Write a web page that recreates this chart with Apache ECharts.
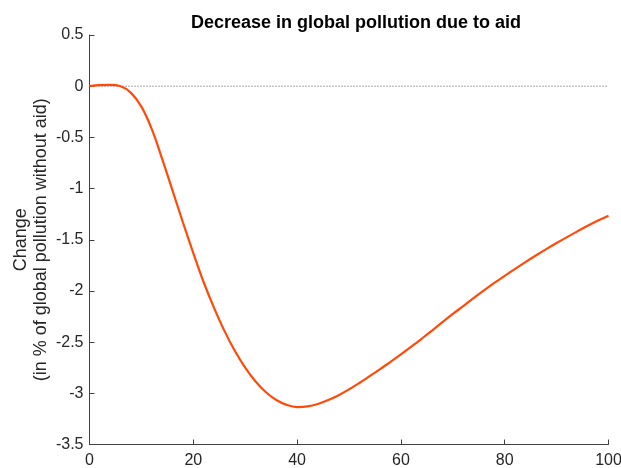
<!DOCTYPE html>
<html>
<head>
<meta charset="utf-8">
<script src="https://cdn.jsdelivr.net/npm/echarts@6/dist/echarts.min.js"></script>
<style>
  html, body { margin: 0; padding: 0; background: #fff; }
  #chart { width: 621px; height: 468px; }
</style>
</head>
<body>
<div id="chart"></div>
<script>
// Aid level (x) and resulting change in global pollution (%)
const aidLevels = [0, 2, 4, 6, 8, 10, 12, 14, 16, 18, 20, 22, 24, 26, 28, 30, 32, 34, 36, 38, 40,
  42, 44, 46, 48, 50, 52, 54, 56, 58, 60, 62, 64, 66, 68, 70, 72, 74, 76, 78, 80,
  82, 84, 86, 88, 90, 92, 94, 96, 98, 100];
const pollutionChange = [0, 0.01, 0.012, 0.0, -0.065, -0.20, -0.42, -0.71, -1.02, -1.33, -1.63,
  -1.915, -2.165, -2.39, -2.585, -2.75, -2.885, -2.99, -3.065, -3.113, -3.134,
  -3.128, -3.104, -3.066, -3.018, -2.962, -2.899, -2.832, -2.764, -2.692, -2.62,
  -2.545, -2.467, -2.387, -2.305, -2.225, -2.148, -2.07, -1.995, -1.922, -1.852,
  -1.784, -1.718, -1.654, -1.592, -1.532, -1.474, -1.418, -1.364, -1.313, -1.265];
const zeroLine = [[0, 0], [100, 0]];

const titleText = 'Decrease in global pollution due to aid';
const yAxisTitle = 'Change\n(in % of global pollution without aid)';

const axisColor = '#404040';
const textColor = '#262626';
const fontFamily = 'Liberation Sans, Arial, Helvetica, sans-serif';

const chart = echarts.init(document.getElementById('chart'), null, { renderer: 'canvas' });
chart.setOption({
  animation: false,
  backgroundColor: '#ffffff',
  title: {
    text: titleText,
    left: 351,
    top: 9,
    textAlign: 'center',
    textStyle: { fontFamily: fontFamily, fontSize: 18, fontWeight: 'bold', color: '#000' }
  },
  grid: { left: 89.5, right: 12.5, top: 35, bottom: 23.5, containLabel: false, outerBoundsMode: 'none' },
  xAxis: {
    type: 'value',
    min: 0, max: 100, interval: 20,
    axisLine: { show: true, onZero: false, lineStyle: { color: axisColor, width: 1 } },
    axisTick: { show: true, inside: true, length: 5, lineStyle: { color: axisColor } },
    axisLabel: { margin: 8, fontFamily: fontFamily, fontSize: 16, color: textColor, hideOverlap: false },
    splitLine: { show: false }
  },
  yAxis: {
    type: 'value',
    min: -3.5, max: 0.5, interval: 0.5,
    name: yAxisTitle,
    nameLocation: 'middle',
    nameGap: 38,
    nameMoveOverlap: false,
    nameRotate: 90,
    nameTextStyle: { fontFamily: fontFamily, fontSize: 18, color: textColor, lineHeight: 20, align: 'center' },
    axisLine: { show: true, onZero: false, lineStyle: { color: axisColor, width: 1 } },
    axisTick: { show: true, inside: true, length: 5, lineStyle: { color: axisColor } },
    axisLabel: { margin: 6, fontFamily: fontFamily, fontSize: 16, color: textColor },
    splitLine: { show: false }
  },
  series: [
    {
      type: 'line',
      data: zeroLine,
      symbol: 'none',
      silent: true,
      lineStyle: { color: '#555555', width: 1, type: [1, 2] },
      z: 1
    },
    {
      type: 'line',
      data: aidLevels.map((x, i) => [x, pollutionChange[i]]),
      symbol: 'none',
      smooth: 0.4,
      lineStyle: { color: '#ff4a0a', width: 2.2 },
      z: 2
    }
  ]
});
</script>
</body>
</html>
